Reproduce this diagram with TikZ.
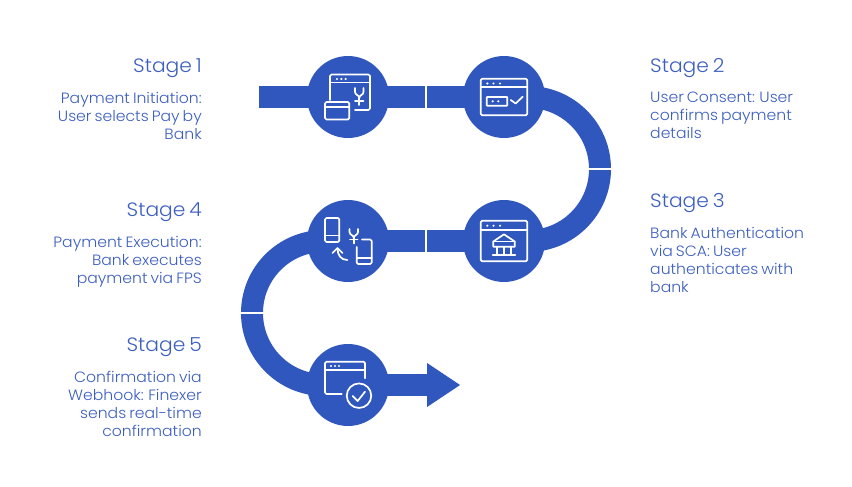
\documentclass[tikz,border=0pt]{standalone}
\usepackage{fontspec}
\setmainfont{Poppins}[UprightFont=* Light,FakeStretch=1.05,WordSpace=0.7]
\definecolor{flow}{HTML}{2F57BE}
\definecolor{ink}{HTML}{3C5EBF}
\tikzset{
  stagedot/.style={circle,fill=flow,minimum size=82pt,inner sep=0pt},
  band/.style={draw=flow,line width=22pt},
  cut/.style={draw=white,line width=1.6pt},
  icon/.style={draw=white,line width=1.7pt,line cap=round,line join=round,rounded corners=1.5pt},
  icondot/.style={fill=white,draw=none},
  head/.style={font=\fontsize{19.3}{22}\selectfont,text=ink,inner sep=0pt},
  body/.style={font=\fontsize{14.9}{18}\selectfont,text=ink,inner sep=0pt},
}
\begin{document}
\begin{tikzpicture}[x=1pt,y=-1pt]
\useasboundingbox (0,0) rectangle (852,487);
\coordinate (start) at (259,97);
\coordinate (arrowbase) at (430,385);
% bands
\node[stagedot,fill=none] (s1) at (348,97) {};
\node[stagedot,fill=none] (s2) at (504,97) {};
\node[stagedot,fill=none] (s3) at (504,241) {};
\node[stagedot,fill=none] (s4) at (348,241) {};
\node[stagedot,fill=none] (s5) at (348,385) {};
\draw[band] (start) -- (s1.center) -- (s2.center);
\draw[band] (s3.center) -- (s4.center);
\draw[band] (s5.center) -- (arrowbase);
\draw[band] (s2.center) -- (528,97) arc[start angle=-90,end angle=90,radius=72] -- (s3.center);
\draw[band] (s4.center) -- (324,241) arc[start angle=-90,end angle=-270,radius=72] -- (s5.center);
\fill[flow] (427,363) coordinate (h1) -- (460,385) coordinate (tip) -- (427,407) coordinate (h2) -- cycle;
\draw[cut] (426,85) -- (426,109);
\draw[cut] (426,229) -- (426,253);
\draw[cut] (588,169) -- (612,169);
\draw[cut] (240,313) -- (264,313);
% discs
\node[stagedot] at (s1) {};
\node[stagedot] at (s2) {};
\node[stagedot] at (s3) {};
\node[stagedot] at (s4) {};
\node[stagedot] at (s5) {};
% icon 1
\draw[icon] (330,100) -- (330,74.5) -- (370,74.5) -- (370,110) -- (355,110);
\draw[icon,rounded corners=0pt] (330,82.5) -- (370,82.5);
\foreach \x in {337,341.3,345.6} \fill[icondot] (\x,79) circle (1.2pt);
\draw[icon,rounded corners=0pt] (355,88) -- (355,92) .. controls (355,95) and (359.3,95) .. (359.3,98) .. controls (359.3,95) and (363.5,95) .. (363.5,92) -- (363.5,88);
\draw[icon,rounded corners=0pt] (359.3,98) -- (359.3,105) (355,100.8) -- (363.5,100.8);
\draw[icon] (325,102) rectangle (349.3,119.5);
\draw[icon,rounded corners=0pt] (325,107) -- (349.3,107);
% icon 2
\draw[icon] (480.7,78.7) rectangle (527.3,115.3);
\draw[icon,rounded corners=0pt] (480.7,87.3) -- (527.3,87.3);
\foreach \x in {487.3,493.5,500} \fill[icondot] (\x,83.5) circle (1.2pt);
\draw[icon,rounded corners=0.5pt] (486.7,97) rectangle (507.3,105.7);
\foreach \x in {492.7,498.3} \fill[icondot] (\x,101.3) circle (1.2pt);
\draw[icon,rounded corners=0pt] (510.7,100) -- (515.7,103.5) -- (522.7,96.7);
% icon 3
\draw[icon] (480.7,220.7) rectangle (527.3,261.3);
\draw[icon,rounded corners=0pt] (480.7,230) -- (527.3,230);
\foreach \x in {487.3,493.5,500} \fill[icondot] (\x,225.7) circle (1.2pt);
\draw[icon,rounded corners=0pt] (504,234.3) -- (493.3,241.5) -- (493.3,246.7) -- (514.7,246.7) -- (514.7,241.5) -- cycle;
\draw[icon,rounded corners=0pt] (493.3,241.5) -- (514.7,241.5);
\draw[icon,rounded corners=0pt] (497.3,247) -- (497.3,254) (504,247) -- (504,254) (510.7,247) -- (510.7,254) (492.7,255) -- (515.3,255);
% icon 4
\draw[icon] (325,218) rectangle (339.3,242);
\draw[icon,rounded corners=0pt] (325,235.5) -- (339.3,235.5);
\draw[icon,rounded corners=0pt] (349.5,229) -- (349.5,232) .. controls (349.5,235) and (353.8,235) .. (353.8,238) .. controls (353.8,235) and (358,235) .. (358,232) -- (358,229);
\draw[icon,rounded corners=0pt] (353.8,238) -- (353.8,243.5) (350,239.5) -- (357.6,239.5);
\draw[icon] (362,239.5) -- (371.7,239.5) -- (371.7,264) -- (356.7,264) -- (356.7,247);
\draw[icon,rounded corners=0pt] (356.7,258.3) -- (371.7,258.3);
\draw[icon,rounded corners=0pt] (347.3,260) .. controls (341,260) and (337.5,255) .. (337.5,248.5);
\draw[icon,rounded corners=0pt] (332.5,253) -- (337.5,248) -- (342.5,253);
% icon 5
\draw[icon] (341.7,394) -- (325,394) -- (325,361.7) -- (365,361.7) -- (365,378.3);
\draw[icon,rounded corners=0pt] (325,370) -- (365,370);
\foreach \x in {331,335,339} \fill[icondot] (\x,366) circle (1.2pt);
\node[circle,draw=white,line width=1.7pt,minimum size=24.5pt,inner sep=0pt] (okc) at (359,395.7) {};
\draw[icon,rounded corners=0pt] (352.7,396) -- (357.7,401) -- (365,391.7);
% text
\node[head,anchor=base east] (t1) at (202,72.5) {Stage 1};
\node[body,align=right,anchor=north east] (b1) at (202,92) {Payment Initiation:\\User selects Pay by\\Bank};
\node[head,anchor=base west] (t2) at (650,72.5) {Stage 2};
\node[body,align=left,anchor=north west] (b2) at (650,92) {User Consent: User\\confirms payment\\details};
\node[head,anchor=base west] (t3) at (650,207.5) {Stage 3};
\node[body,align=left,anchor=north west] (b3) at (650,227) {Bank Authentication\\via SCA: User\\authenticates with\\bank};
\node[head,anchor=base east] (t4) at (202,216.5) {Stage 4};
\node[body,align=right,anchor=north east] (b4) at (202,236) {Payment Execution:\\Bank executes\\payment via FPS};
\node[head,anchor=base east] (t5) at (202,351) {Stage 5};
\node[body,align=right,anchor=north east] (b5) at (202,371) {Confirmation via\\Webhook: Finexer\\sends real-time\\confirmation};
\end{tikzpicture}
\end{document}
